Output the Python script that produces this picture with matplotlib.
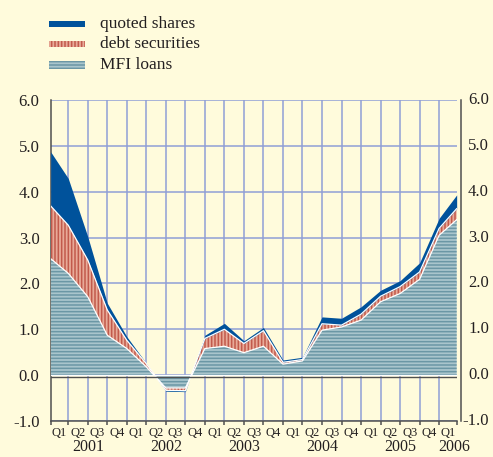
import numpy as np
import matplotlib
matplotlib.use("Agg")
import matplotlib.pyplot as plt
from matplotlib.patches import Rectangle

plt.rcParams["font.family"] = ["Liberation Serif", "DejaVu Serif"]
plt.rcParams["axes.unicode_minus"] = False
plt.rcParams["hatch.linewidth"] = 1.1

# x-axis: quarter cells 2001 Q1 - 2006 Q1
quarters = ["Q1", "Q2", "Q3", "Q4"] * 5 + ["Q1"]
years = ["2001", "2002", "2003", "2004", "2005", "2006"]

# values at the cell boundaries (left edge, 20 inner boundaries, right edge)
mfi_loans = [2.54, 2.22, 1.71, 0.87, 0.58, 0.18, -0.28, -0.28, 0.58, 0.63, 0.49,
             0.63, 0.24, 0.31, 0.98, 1.05, 1.20, 1.60, 1.78, 2.09, 3.05, 3.39]
debt_securities = [1.15, 1.05, 0.80, 0.55, 0.18, 0.07, -0.05, -0.06, 0.22, 0.37, 0.20,
                   0.34, 0.04, 0.03, 0.14, 0.04, 0.13, 0.12, 0.15, 0.16, 0.15, 0.24]
quoted_shares = [1.18, 1.02, 0.51, 0.15, 0.08, 0.01, -0.02, -0.02, 0.07, 0.13, 0.06,
                 0.07, 0.05, 0.05, 0.15, 0.15, 0.16, 0.13, 0.13, 0.20, 0.22, 0.30]

bg = "#fffbdc"
grid_col = "#8f9fd6"
axis_col = "#505050"
txt_col = "#231f20"
blue = "#00529b"
red_dark, red_light = "#c25a4c", "#e8aa98"
mfi_dark, mfi_light = "#6b97a5", "#a9c5cc"

fig = plt.figure(figsize=(4.93, 4.57), dpi=100, facecolor=bg)
ax = fig.add_axes([0.1028, 0.0788, 0.8235, 0.7024], facecolor=bg)

x_left, x_right = -0.9, 19.9
edges = np.r_[x_left, np.arange(20), x_right]

m = np.array(mfi_loans)
d = m + np.array(debt_securities)
t = d + np.array(quoted_shares)

ax.fill_between(edges, 0, m, facecolor=mfi_light, edgecolor=mfi_dark, hatch="-----", lw=0, zorder=3)
ax.fill_between(edges, m, d, facecolor=red_light, edgecolor=red_dark, hatch="|||||", lw=0, zorder=3)
ax.fill_between(edges, d, t, facecolor=blue, edgecolor=blue, lw=0, zorder=3)
ax.plot(edges, m, color="white", lw=0.9, zorder=4)
ax.plot(edges, d, color="white", lw=0.9, zorder=4)
ax.axhline(0, color="white", lw=0.9, zorder=4)
ax.axhline(-0.04, color=axis_col, lw=1.0, zorder=5)

ax.set_xlim(x_left, x_right)
ax.set_ylim(-1, 6)
ax.set_xticks(np.arange(20))
ax.set_xticks([x_left, x_right], minor=True)
ax.set_yticks(range(-1, 7))
ax.grid(True, which="major", color=grid_col, lw=1.1, zorder=1)
ax.set_axisbelow(True)

ax.set_xticklabels([])
ax.tick_params(axis="x", which="both", direction="out", length=3, width=1.1, color=axis_col)
ax.tick_params(axis="y", length=0, pad=8, labelsize=12, labelcolor=txt_col)
ax.set_yticklabels([f"{v:.1f}" for v in range(-1, 7)])

for side in ["left", "bottom", "right"]:
    ax.spines[side].set_color(axis_col)
    ax.spines[side].set_linewidth(1.1)
ax.spines["top"].set_visible(False)
ax.spines["right"].set_position(("outward", 2.9))

# right-hand labels
ytr = ax.get_yaxis_transform()
for v in range(-1, 7):
    ax.text(1.0796, v, f"{v:.1f}", transform=ytr, ha="right", va="center",
            fontsize=12, color=txt_col, clip_on=False)

# quarter and year labels
centers = (edges[:-1] + edges[1:]) / 2
for cx, q in zip(centers, quarters):
    ax.text(cx, -1.27, q, ha="center", va="center", fontsize=9, color=txt_col, clip_on=False)
for i, yr in enumerate(years):
    if i * 4 + 4 <= 21:
        cx = (edges[i * 4] + edges[i * 4 + 4]) / 2
    else:
        cx = edges[i * 4] + 0.75  # last, partial year
    ax.text(cx, -1.57, yr, ha="center", va="center", fontsize=11.5, color=txt_col, clip_on=False)

# legend
W, H = 493, 457
legend_items = [
    ("quoted shares", dict(facecolor=blue, edgecolor=blue), 24, 6),
    ("debt securities", dict(facecolor=red_light, edgecolor=red_dark, hatch="|||||"), 44, 6),
    ("MFI loans", dict(facecolor=mfi_light, edgecolor=mfi_dark, hatch="-----"), 65, 8),
]
for label, style, yc, h in legend_items:
    fig.add_artist(Rectangle((49 / W, 1 - (yc + h / 2) / H), 36 / W, h / H, lw=0,
                             transform=fig.transFigure, **style))
    fig.text(100 / W, 1 - yc / H, label, va="center", ha="left", fontsize=12.5, color=txt_col)

fig.savefig("out.png", dpi=100, facecolor=bg)
